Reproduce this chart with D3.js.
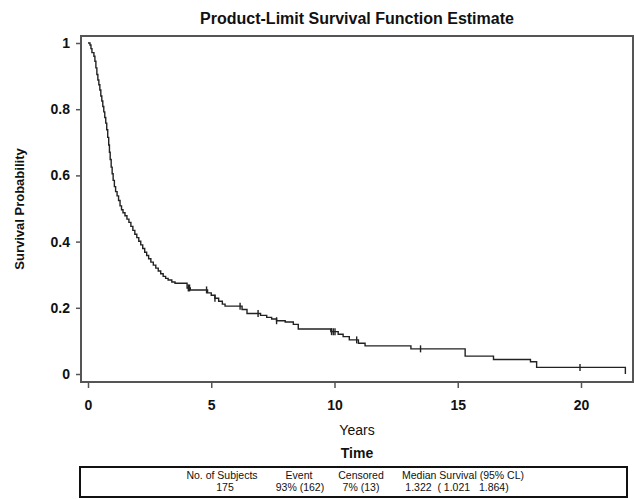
<!DOCTYPE html>
<meta charset="utf-8">
<head>
    <title>Product-Limit Survival Function Estimate</title>
    <script src="https://d3js.org/d3.v7.min.js"></script>
    <style>
        body { margin: 0; background: #ffffff; }
        text { font-family: "Liberation Sans", Arial, sans-serif; fill: #111; }
    </style>
</head>
<body>
<div id="my_dataviz"></div>
<script>

// step points of the Kaplan-Meier estimate
var stepTimes = [0, 0.08, 0.12, 0.16, 0.24, 0.28, 0.32, 0.36, 0.40, 0.44, 0.48, 0.52, 0.56,
    0.60, 0.64, 0.68, 0.72, 0.76, 0.80, 0.84, 0.87, 0.90, 0.94, 0.98, 1.02, 1.07, 1.12, 1.18,
    1.24, 1.30, 1.36, 1.42, 1.50, 1.58, 1.66, 1.74, 1.82, 1.90, 1.98, 2.06, 2.14, 2.22, 2.30,
    2.38, 2.46, 2.55, 2.65, 2.75, 2.85, 2.95, 3.05, 3.15, 3.25, 3.40, 3.53,
    4.02, 4.15, 4.85, 5.00, 5.15, 5.30, 5.45, 5.56, 6.25, 6.45,
    7.00, 7.25, 7.45, 7.65, 8.00, 8.33, 8.53, 9.85, 10.15, 10.35, 10.60, 10.97, 11.24, 13.10,
    15.30, 16.45, 17.95, 18.20, 21.80];
var stepSurvival = [1.000, 0.994, 0.983, 0.971, 0.960, 0.945, 0.925, 0.905, 0.888, 0.874, 0.858, 0.840, 0.825,
    0.808, 0.792, 0.775, 0.758, 0.738, 0.715, 0.692, 0.670, 0.648, 0.625, 0.605, 0.585, 0.566, 0.551, 0.538,
    0.524, 0.508, 0.496, 0.487, 0.478, 0.468, 0.458, 0.446, 0.434, 0.422, 0.412, 0.401, 0.390, 0.379, 0.368,
    0.358, 0.348, 0.338, 0.329, 0.320, 0.311, 0.303, 0.295, 0.289, 0.284, 0.278, 0.274,
    0.260, 0.254, 0.245, 0.238, 0.229, 0.220, 0.211, 0.205, 0.195, 0.183,
    0.177, 0.171, 0.166, 0.161, 0.157, 0.150, 0.136, 0.128, 0.120, 0.113, 0.103, 0.093, 0.085, 0.076,
    0.054, 0.044, 0.037, 0.020, 0.000];

// censored observations (years)
var censorTimes = [4.07, 4.12, 4.81, 5.15, 6.17, 6.90, 7.65, 9.88, 9.95, 10.02, 10.90, 13.49, 19.96];

var xTicks = [0, 5, 10, 15, 20];
var yTicks = [0, 0.2, 0.4, 0.6, 0.8, 1];

var tableHeader = ["No. of Subjects", "Event", "Censored", "Median Survival (95% CL)"];
var tableValues = ["175", "93% (162)", "7% (13)", "1.322  ( 1.021   1.864)"];

var W = 634, H = 499;
var frame = {left: 81, top: 36, right: 633, bottom: 382};

var svg = d3.select("#my_dataviz")
    .append("svg")
    .attr("width", W)
    .attr("height", H);

var x = d3.scaleLinear()
    .domain([0, 20])
    .range([88, 581]);
var y = d3.scaleLinear()
    .domain([0, 1])
    .range([374, 43]);

// title
svg.append("text")
    .attr("x", (frame.left + frame.right) / 2)
    .attr("y", 24)
    .attr("text-anchor", "middle")
    .style("font-size", "16px")
    .style("font-weight", "bold")
    .text("Product-Limit Survival Function Estimate");

// frame
svg.append("rect")
    .attr("x", frame.left)
    .attr("y", frame.top)
    .attr("width", frame.right - frame.left)
    .attr("height", frame.bottom - frame.top)
    .attr("fill", "none")
    .attr("stroke", "#555")
    .attr("stroke-width", 2);

// Y axis
var yAxis = svg.append("g")
    .attr("transform", "translate(" + frame.left + ",0)")
    .call(d3.axisLeft(y).tickValues(yTicks).tickSize(5).tickPadding(6)
        .tickFormat(function(d) { return (d === 0 || d === 1) ? d : d.toFixed(1); }));
yAxis.select(".domain").remove();
yAxis.selectAll("line").attr("stroke", "#555").attr("stroke-width", 1.5);
yAxis.selectAll("text").style("font-size", "14px").style("font-weight", "bold")
    .style("font-family", "'Liberation Sans', Arial, sans-serif").attr("fill", "#111");

// X axis
var xAxis = svg.append("g")
    .attr("transform", "translate(0," + frame.bottom + ")")
    .call(d3.axisBottom(x).tickValues(xTicks).tickSize(6).tickPadding(12));
xAxis.select(".domain").remove();
xAxis.selectAll("line").attr("stroke", "#555").attr("stroke-width", 1.5);
xAxis.selectAll("text").style("font-size", "14px").style("font-weight", "bold")
    .style("font-family", "'Liberation Sans', Arial, sans-serif").attr("fill", "#111");

// axis labels
svg.append("text")
    .attr("transform", "rotate(-90)")
    .attr("x", -(frame.top + frame.bottom) / 2)
    .attr("y", 24)
    .attr("text-anchor", "middle")
    .style("font-size", "13px")
    .style("font-weight", "bold")
    .text("Survival Probability");

svg.append("text")
    .attr("x", (frame.left + frame.right) / 2)
    .attr("y", 435)
    .attr("text-anchor", "middle")
    .style("font-size", "14px")
    .text("Years");

svg.append("text")
    .attr("x", (frame.left + frame.right) / 2)
    .attr("y", 458)
    .attr("text-anchor", "middle")
    .style("font-size", "14px")
    .style("font-weight", "bold")
    .text("Time");

// survival curve
var km = stepTimes.map(function(t, i) { return {t: t, s: stepSurvival[i]}; });
svg.append("path")
    .datum(km)
    .attr("fill", "none")
    .attr("stroke", "#222")
    .attr("stroke-width", 1.4)
    .attr("d", d3.line()
        .x(function(d) { return x(d.t); })
        .y(function(d) { return y(d.s); })
        .curve(d3.curveStepAfter));

// censor marks
function survivalAt(t) {
    var i = d3.bisectRight(stepTimes, t) - 1;
    return stepSurvival[Math.max(i, 0)];
}
svg.append("g")
    .selectAll("line")
    .data(censorTimes)
    .enter()
    .append("line")
        .attr("x1", function(d) { return x(d); })
        .attr("x2", function(d) { return x(d); })
        .attr("y1", function(d) { return y(survivalAt(d)) - 3.5; })
        .attr("y2", function(d) { return y(survivalAt(d)) + 3.5; })
        .attr("stroke", "#222")
        .attr("stroke-width", 1.4);

// summary table
svg.append("rect")
    .attr("x", 80).attr("y", 467)
    .attr("width", 547).attr("height", 30)
    .attr("fill", "none")
    .attr("stroke", "#111")
    .attr("stroke-width", 2);

var colX = [222, 299, 361, 463];
var valX = [225, 300, 361, 457];
svg.selectAll(".hdr")
    .data(tableHeader)
    .enter()
    .append("text")
        .attr("class", "hdr")
        .attr("x", function(d, i) { return colX[i]; })
        .attr("y", 479)
        .attr("text-anchor", "middle")
        .style("font-size", "10.5px")
        .text(function(d) { return d; });
svg.selectAll(".val")
    .data(tableValues)
    .enter()
    .append("text")
        .attr("class", "val")
        .attr("x", function(d, i) { return valX[i]; })
        .attr("y", 491)
        .attr("text-anchor", "middle")
        .style("font-size", "10.5px")
        .style("white-space", "pre")
        .text(function(d) { return d; });

</script>
</body>
</html>
